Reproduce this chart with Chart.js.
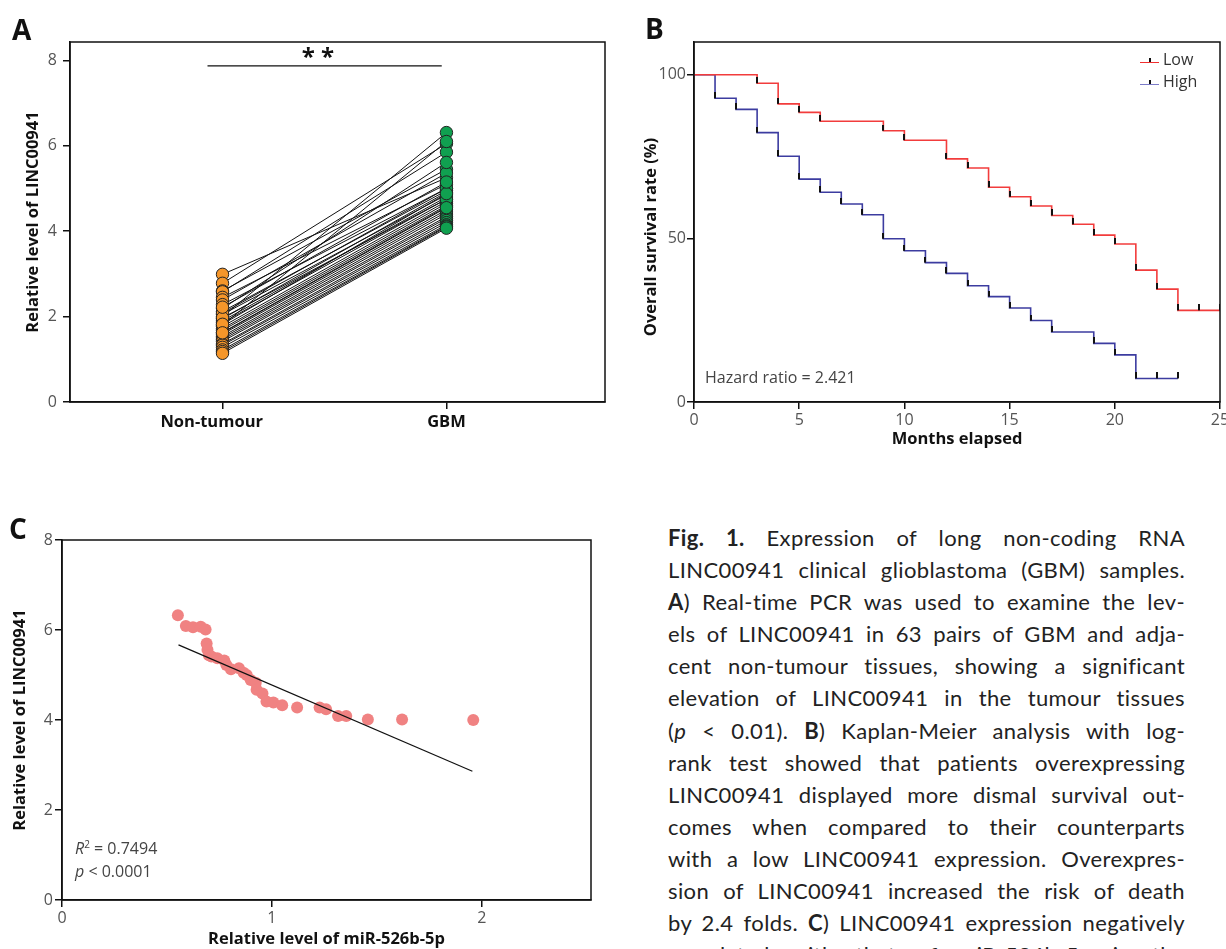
<!DOCTYPE html>
<html><head><meta charset="utf-8">
<script src="https://cdn.jsdelivr.net/npm/chart.js@4.4.1/dist/chart.umd.min.js"></script>
<style>
html,body{margin:0;padding:0;background:#fff;overflow:hidden;width:1226px;height:949px;}
body{position:relative;}
canvas{position:absolute;}
.lbl{position:absolute;font-family:"Open Sans",sans-serif;font-weight:700;font-size:28px;line-height:1;color:#111;}
.ann{position:absolute;font-family:"Open Sans",sans-serif;font-size:16px;line-height:23px;color:#444;white-space:nowrap;}
.ann sup{font-size:10px;line-height:0;}
#legB div{height:22px;line-height:22px;}
.sw{display:inline-block;width:19px;height:1.5px;position:relative;vertical-align:middle;margin-right:4px;top:2px;}
.sw::after{content:'';position:absolute;left:9px;top:-4px;width:1.5px;height:4px;background:#111;}
#caption{position:absolute;left:668px;top:522px;width:517px;font-family:Lato,sans-serif;font-size:22px;line-height:32.1px;color:#222;letter-spacing:0.4px;}
#caption div{text-align:justify;text-align-last:justify;height:32.1px;overflow:visible;}
</style></head>
<body>
<canvas id="cA" width="620" height="460" style="left:0;top:0"></canvas>
<canvas id="cB" width="596" height="460" style="left:630px;top:0"></canvas>
<canvas id="cC" width="620" height="449" style="left:0;top:500px"></canvas>
<div class="lbl" style="left:12px;top:15px">A</div>
<div class="lbl" style="left:645px;top:14px">B</div>
<div class="lbl" style="left:9px;top:514px">C</div>
<div class="ann" id="legB" style="left:1140px;top:48px;color:#333"></div>
<div class="ann" style="left:705px;top:366px">Hazard ratio = 2.421</div>
<div class="ann" style="left:75px;top:837px"><i>R</i><sup>2</sup> = 0.7494<br><i>p</i> &lt; 0.0001</div>
<div id="caption">
<div><b>Fig. 1.</b> Expression of long non-coding RNA</div>
<div>LINC00941 clinical glioblastoma (GBM) samples.</div>
<div><b>A</b>) Real-time PCR was used to examine the lev-</div>
<div>els of LINC00941 in 63 pairs of GBM and adja-</div>
<div>cent non-tumour tissues, showing a significant</div>
<div>elevation of LINC00941 in the tumour tissues</div>
<div>(<i>p</i> &lt; 0.01). <b>B</b>) Kaplan-Meier analysis with log-</div>
<div>rank test showed that patients overexpressing</div>
<div>LINC00941 displayed more dismal survival out-</div>
<div>comes when compared to their counterparts</div>
<div>with a low LINC00941 expression. Overexpres-</div>
<div>sion of LINC00941 increased the risk of death</div>
<div>by 2.4 folds. <b>C</b>) LINC00941 expression negatively</div>
<div>correlated with that of miR-526b-5p in the</div>
</div>
<script>
// ---------- Panel A data ----------
const categoriesA = ['Non-tumour', 'GBM'];
const nonTumour = [2.99, 2.78, 2.6, 2.58, 2.45, 2.39, 2.28, 2.19, 2.12, 2.05, 2.0, 1.95, 1.9, 1.86, 1.8, 1.77, 1.72, 1.68, 1.63, 1.59, 1.54, 1.5, 1.46, 1.42, 1.36, 1.33, 1.28, 1.22, 1.18, 1.14, 2.08, 1.97, 1.82, 1.62, 2.22];
const gbm       = [5.25, 6.05, 5.45, 5.85, 5.1, 5.36, 5.0, 5.61, 4.95, 4.85, 6.31, 4.91, 4.8, 4.75, 6.1, 4.7, 4.65, 4.6, 4.57, 4.5, 4.45, 4.4, 4.34, 4.3, 4.25, 4.2, 4.15, 4.12, 4.1, 4.07, 5.0, 4.75, 4.88, 4.55, 5.15];
const sigBarX = [-0.067, 0.979];
const sigBarY = [7.87, 7.87];
const sigLabel = '* *';
const yTicksA = [0, 2, 4, 6, 8];

// ---------- Panel B data ----------
const seriesNamesB = ['Low', 'High'];
const lowTimes  = [0, 3, 4, 5, 6, 9, 10, 12, 13, 14, 15, 16, 17, 18, 19, 20, 21, 22, 23, 25];
const lowSurv   = [100, 97.4, 91.1, 88.5, 85.8, 82.9, 80.0, 74.3, 71.5, 65.6, 62.7, 59.9, 57.0, 54.3, 51.0, 48.3, 40.3, 34.5, 28.0, 28.0];
const lowCensor = [24, 25];
const highTimes = [0, 1, 2, 3, 4, 5, 6, 7, 8, 9, 10, 11, 12, 13, 14, 15, 16, 17, 19, 20, 21, 23];
const highSurv  = [100, 92.8, 89.4, 82.3, 75.1, 68.1, 64.1, 60.5, 57.2, 49.9, 46.2, 42.6, 39.3, 35.5, 32.2, 28.7, 24.9, 21.4, 17.9, 14.4, 7.2, 7.2];
const highCensor = [22, 23];

// ---------- Panel C data ----------
const mirLevel   = [0.552, 0.590, 0.624, 0.661, 0.684, 0.689, 0.693, 0.700, 0.712, 0.740, 0.773, 0.783, 0.805, 0.843, 0.865, 0.880, 0.899, 0.923, 0.927, 0.955, 0.974, 1.007, 1.049, 1.120, 1.227, 1.258, 1.315, 1.354, 1.457, 1.620, 1.959];
const lincLevel  = [6.33, 6.09, 6.06, 6.07, 6.01, 5.70, 5.56, 5.44, 5.41, 5.37, 5.32, 5.22, 5.13, 5.15, 5.05, 5.00, 4.89, 4.83, 4.67, 4.59, 4.41, 4.39, 4.33, 4.28, 4.28, 4.24, 4.09, 4.09, 4.01, 4.01, 4.00];
const trendX = [0.555, 1.955];
const trendY = [5.67, 2.86];

// ---------- colours ----------
const ORANGE = '#F5962A', GREEN = '#10A050', RED = '#F23C3C', BLUE = '#3C3CA0', PINK = '#F08282';
const LEG_RED = '#F03030', LEG_BLUE = '#7C7CC8';
const FONT = '"Open Sans", sans-serif';

// ---------- plugins ----------
const framePlugin = {
  id: 'frame',
  afterDraw(chart) {
    const {ctx, chartArea: a} = chart;
    ctx.save(); ctx.strokeStyle = '#111'; ctx.lineWidth = 1.5;
    ctx.strokeRect(a.left, a.top, a.right - a.left, a.bottom - a.top);
    ctx.restore();
  }
};
const textPlugin = {
  id: 'texts',
  afterDraw(chart, args, opts) {
    const ctx = chart.ctx;
    (opts.items || []).forEach(t => {
      let x = t.x, y = t.y;
      if (t.data) { x = chart.scales.x.getPixelForValue(t.x); y = chart.scales.y.getPixelForValue(t.y); }
      ctx.save(); ctx.translate(x, y); if (t.rotate) ctx.rotate(t.rotate);
      ctx.font = t.font; ctx.fillStyle = t.color || '#111';
      ctx.textAlign = 'center'; ctx.textBaseline = 'middle';
      ctx.fillText(t.text, 0, 0); ctx.restore();
    });
  }
};
function fixAxis(w, h) {
  return s => {
    if (w != null) s.width = w;
    if (h != null) s.height = h;
    s.paddingLeft = 0; s.paddingRight = 0; s.paddingTop = 0; s.paddingBottom = 0;
  };
}
const tickFont = {family: FONT, size: 16};
const titleFont = {family: FONT, size: 16.5, weight: 'bold'};
const axisGrid = {drawOnChartArea: false, color: '#111', tickLength: 7, lineWidth: 1.5};
const axisBorder = {color: '#111', width: 1.5};
const base = {responsive: false, animation: false, devicePixelRatio: 1, events: []};

// ---------- Chart A ----------
const pairs = [];
nonTumour.forEach((v, i) => {
  pairs.push({x: 0, y: v}, {x: 1, y: gbm[i]}, {x: 0.5, y: null});
});
// the first category label sits slightly left of its tick in the original
const labelPadA = ['\u2007\u2007\u2009', ''];
new Chart(document.getElementById('cA'), {
  type: 'line',
  data: {datasets: [
    {data: pairs, borderColor: '#111', borderWidth: 1, spanGaps: false, tension: 0,
     pointRadius: c => (c.raw && c.raw.y != null) ? 6.2 : 0,
     pointBackgroundColor: c => (c.raw && c.raw.x === 0) ? ORANGE : GREEN,
     pointBorderColor: '#222', pointBorderWidth: 1},
    {data: sigBarX.map((x, i) => ({x, y: sigBarY[i]})), borderColor: '#111', borderWidth: 1.2, pointRadius: 0}
  ]},
  options: Object.assign({}, base, {
    layout: {padding: {top: 42, right: 15, left: 0, bottom: 0}},
    plugins: {legend: {display: false}, tooltip: {enabled: false},
      texts: {items: [{data: true, x: (sigBarX[0] + sigBarX[1]) / 2 - 0.03, y: 8.06, text: sigLabel, font: 'bold 24px ' + FONT}]}},
    scales: {
      x: {type: 'linear', min: -0.681, max: 1.708,
          afterBuildTicks: s => { s.ticks = categoriesA.map((c, i) => ({value: i})); },
          ticks: {callback: v => categoriesA[v] + labelPadA[v], color: '#111', font: titleFont, padding: 3, autoSkip: false, maxRotation: 0},
          grid: axisGrid, border: axisBorder, afterFit: fixAxis(null, 58)},
      y: {type: 'linear', min: 0, max: 8.43,
          afterBuildTicks: s => { s.ticks = yTicksA.map(v => ({value: v})); },
          ticks: {color: '#555', font: tickFont, padding: 6},
          grid: axisGrid, border: axisBorder,
          title: {display: true, text: 'Relative level of LINC00941', color: '#111', font: titleFont, padding: {top: 23, bottom: 0}},
          afterFit: fixAxis(70, null)}
    }
  }),
  plugins: [framePlugin, textPlugin]
});

// ---------- Chart B ----------
function survAt(times, surv, t) { let v = surv[0]; times.forEach((tt, i) => { if (tt <= t) v = surv[i]; }); return v; }
function stepMarks(times, surv, censor) {
  const m = [];
  times.forEach((t, i) => { if (i > 0 && surv[i] !== surv[i - 1]) m.push({x: t, y: surv[i]}); });
  censor.forEach(t => m.push({x: t, y: survAt(times, surv, t)}));
  return m;
}
const tickImg = document.createElement('canvas');
tickImg.width = 2; tickImg.height = 12;
(() => { const g = tickImg.getContext('2d'); g.fillStyle = '#111'; g.fillRect(0, 0, 2, 6); })();

new Chart(document.getElementById('cB'), {
  type: 'line',
  data: {datasets: [
    {label: seriesNamesB[0], data: lowTimes.map((t, i) => ({x: t, y: lowSurv[i]})), stepped: 'before', borderColor: RED, borderWidth: 1.6, pointRadius: 0, order: 2},
    {label: seriesNamesB[1], data: highTimes.map((t, i) => ({x: t, y: highSurv[i]})), stepped: 'before', borderColor: BLUE, borderWidth: 1.6, pointRadius: 0, order: 2},
    {data: stepMarks(lowTimes, lowSurv, lowCensor), showLine: false, pointStyle: tickImg, pointRadius: 5, order: 0},
    {data: stepMarks(highTimes, highSurv, highCensor), showLine: false, pointStyle: tickImg, pointRadius: 5, order: 0}
  ]},
  options: Object.assign({}, base, {
    layout: {padding: {top: 42, right: 5, left: 0, bottom: 0}},
    plugins: {legend: {display: false}, tooltip: {enabled: false},
      texts: {items: [{x: 21, y: 237, rotate: -Math.PI / 2, text: 'Overall survival rate (%)', font: 'bold 16.5px ' + FONT}]}},
    scales: {
      x: {type: 'linear', min: 0, max: 25, ticks: {stepSize: 5, color: '#555', font: tickFont, padding: 2, maxRotation: 0},
          grid: axisGrid, border: axisBorder,
          title: {display: true, text: 'Months elapsed', color: '#111', font: titleFont, padding: {top: 0, bottom: 11}},
          afterFit: fixAxis(null, 58)},
      y: {type: 'linear', min: 0, max: 110, ticks: {stepSize: 50, includeBounds: false, color: '#555', font: tickFont, padding: 1},
          grid: axisGrid, border: axisBorder, afterFit: fixAxis(64, null)}
    }
  }),
  plugins: [framePlugin, textPlugin]
});

// legend B
const legB = document.getElementById('legB');
[[seriesNamesB[0], LEG_RED], [seriesNamesB[1], LEG_BLUE]].forEach(([n, c]) => {
  const d = document.createElement('div');
  d.innerHTML = '<span class="sw" style="background:' + c + '"></span>' + n;
  legB.appendChild(d);
});

// ---------- Chart C ----------
new Chart(document.getElementById('cC'), {
  type: 'scatter',
  data: {datasets: [
    {data: mirLevel.map((x, i) => ({x, y: lincLevel[i]})), backgroundColor: PINK, borderWidth: 0, pointRadius: 6, order: 1},
    {type: 'line', data: trendX.map((x, i) => ({x, y: trendY[i]})), borderColor: '#111', borderWidth: 1.2, pointRadius: 0, order: 0}
  ]},
  options: Object.assign({}, base, {
    layout: {padding: {top: 40, right: 29, left: 0, bottom: 0}},
    plugins: {legend: {display: false}, tooltip: {enabled: false}},
    scales: {
      x: {type: 'linear', min: 0, max: 2.52, ticks: {stepSize: 1, includeBounds: false, color: '#555', font: tickFont, padding: 2, maxRotation: 0},
          grid: axisGrid, border: axisBorder,
          title: {display: true, text: 'Relative level of miR-526b-5p', color: '#111', font: titleFont, padding: {top: 0, bottom: 0}},
          afterFit: fixAxis(null, 49)},
      y: {type: 'linear', min: 0, max: 8, ticks: {stepSize: 2, color: '#555', font: tickFont, padding: 2},
          grid: axisGrid, border: axisBorder,
          title: {display: true, text: 'Relative level of LINC00941', color: '#111', font: titleFont, padding: {top: 10, bottom: 0}},
          afterFit: fixAxis(62, null)}
    }
  }),
  plugins: [framePlugin]
});
</script>
</body></html>
